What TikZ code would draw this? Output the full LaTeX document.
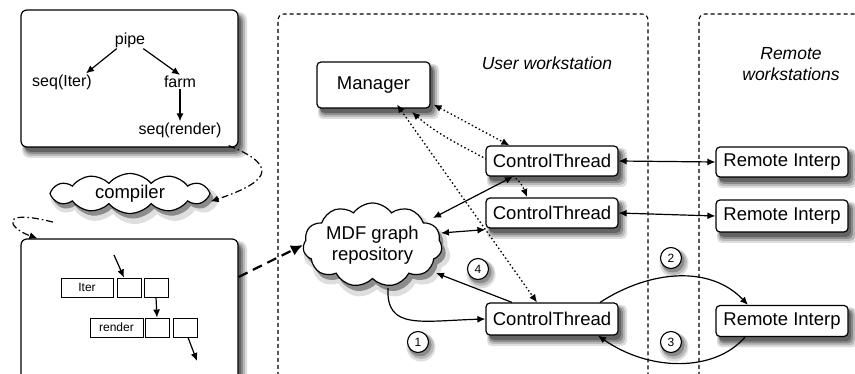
\documentclass[tikz,border=0pt]{standalone}
\usepackage{fontspec}
\setmainfont{Liberation Sans}
\usetikzlibrary{arrows.meta,shapes.symbols}
\definecolor{shA}{RGB}{222,222,222}
\definecolor{shB}{RGB}{185,185,185}
\definecolor{shC}{RGB}{140,140,140}
\definecolor{shD}{RGB}{100,100,100}
% shadow of a rounded box: [radius]{cx}{cy}{w}{h}
\newcommand\shrect[5][5pt]{%
  \path[fill=shA,rounded corners=#1] ({#2-#4/2+1},{#3-#5/2+2}) rectangle ({#2+#4/2+9},{#3+#5/2+11});
  \path[fill=shB,rounded corners=#1] ({#2-#4/2+2},{#3-#5/2+3}) rectangle ({#2+#4/2+7},{#3+#5/2+9});
  \path[fill=shC,rounded corners=#1] ({#2-#4/2+3},{#3-#5/2+4}) rectangle ({#2+#4/2+5},{#3+#5/2+7});
  \path[fill=shD,rounded corners=#1] ({#2-#4/2+3},{#3-#5/2+4}) rectangle ({#2+#4/2+3},{#3+#5/2+5});
}
\newcommand\shcirc[2]{%
  \path[fill=shA] ({#1+3},{#2+5}) circle (14.5pt);
  \path[fill=shB] ({#1+3},{#2+4}) circle (13pt);
  \path[fill=shC] ({#1+2},{#2+3}) circle (11.5pt);
}
\begin{document}
\begin{tikzpicture}[x=1pt,y=-1pt,
  >={Latex[length=8pt,width=7pt]},
  bigbox/.style={draw,line width=1.2pt,rounded corners=6pt,fill=white},
  box/.style={draw,line width=1.2pt,rounded corners=4pt,fill=white,inner sep=0pt,
    font=\fontsize{18.5}{20}\selectfont},
  tree/.style={inner sep=1pt,font=\fontsize{16}{18}\selectfont},
  cell/.style={draw,line width=0.9pt,fill=white,inner sep=0pt,minimum width=24pt,minimum height=19pt,
    font=\fontsize{12}{14}\selectfont},
  region/.style={line width=1.1pt,dash pattern=on 4pt off 3pt,rounded corners=6pt},
  cloudy/.style={cloud,draw,line width=1.2pt,fill=white,cloud ignores aspect,inner sep=0pt,
    font=\fontsize{18.5}{21}\selectfont,align=center},
  cloudsh/.style={cloud,draw=none,cloud ignores aspect,inner sep=0pt},
  num/.style={circle,draw,line width=1.1pt,fill=white,minimum size=21pt,inner sep=0pt,
    font=\fontsize{12}{14}\selectfont},
  title/.style={font=\fontsize{17.5}{21}\selectfont\itshape,align=center},
  dotline/.style={line width=1.3pt,dash pattern=on 1.5pt off 2.5pt},
  dashdot/.style={line width=1.2pt,dash pattern=on 7pt off 3pt on 1.5pt off 3pt},
  solid1/.style={line width=1.2pt}
]
\path[use as bounding box,fill=white] (0,0) rectangle (855,374);

% regions
\draw[region] (278,390) -- (278,14) -- (648,14) -- (648,390);
\draw[region] (699,390) -- (699,14) -- (870,14);
\node[title] (uw) at (547,63) {User workstation};
\node[title] (rw) at (791,64) {Remote\\workstations};

% shadows (drawn first)
\shrect[8pt]{129.5}{78.5}{217}{137}
\shrect[8pt]{129.5}{314.5}{217}{151}
\shrect{373.5}{85}{113}{46}
\shrect{552}{161}{132}{30}
\shrect{552}{213}{132}{30}
\shrect{552}{319}{132}{32}
\shrect{782}{162}{132}{30}
\shrect{782}{216}{132}{32}
\shrect{782}{321}{132}{31}
\shcirc{418}{342}\shcirc{478}{269}\shcirc{671}{258}\shcirc{671}{342}
\node[cloudsh,fill=shA,cloud puffs=12,cloud puff arc=100,minimum width=168pt,minimum height=48pt] (compsh1) at (135,200) {};
\node[cloudsh,fill=shC,cloud puffs=12,cloud puff arc=100,minimum width=161pt,minimum height=41pt] (compsh2) at (133,198) {};
\node[cloudsh,fill=shA,cloud puffs=11,cloud puff arc=110,minimum width=147pt,minimum height=92pt] (mdfsh1) at (377,252) {};
\node[cloudsh,fill=shC,cloud puffs=11,cloud puff arc=110,minimum width=140pt,minimum height=85pt] (mdfsh2) at (376,250) {};

% dotted link hidden behind ct1 (drawn before nodes)
\coordinate (mA) at (412,112);
\coordinate (cB) at (527,197);
\draw[dotline,<->] (mA) .. controls (455,150) and (515,165) .. (cB);

% left boxes
\node[bigbox,minimum width=217pt,minimum height=137pt] (topbox) at (129.5,78.5) {};
\node[tree] (pipe) at (130,40) {pipe};
\node[tree] (seqiter) at (62,82) {seq(Iter)};
\node[tree] (farm) at (180,82) {farm};
\node[tree] (seqrender) at (180,130) {seq(render)};
\draw[solid1,->] ([xshift=3pt]pipe.south west) -- (seqiter.north -| 86,0);
\draw[solid1,->] ([xshift=-3pt]pipe.south east) -- (farm.north);
\draw[solid1,->] (farm.south) -- (seqrender.north);

\node[cloudy,cloud puffs=12,cloud puff arc=100,minimum width=160pt,minimum height=40pt] (compiler) at (130,193.5) {compiler};

\node[bigbox,minimum width=217pt,minimum height=151pt] (botbox) at (129.5,314.5) {};
\node[cell,minimum width=52pt] (iter) at (87,287.5) {Iter};
\node[cell] (b1) at (129,287.5) {};
\node[cell] (b2) at (156,287.5) {};
\node[cell,minimum width=53pt] (render) at (116.5,327.5) {render};
\node[cell] (b3) at (157,327.5) {};
\node[cell] (b4) at (185,327.5) {};
\coordinate (inarr) at (114,255);
\coordinate (outarr) at (197,361);
\draw[solid1,->] (inarr) -- ([xshift=-5pt]b1.north);
\draw[solid1,->] (b2.south) -- (b3.north);
\draw[solid1,->] ([xshift=3pt]b4.south) -- (outarr);

\draw[dashdot,->] ([xshift=-10pt,yshift=2pt]topbox.south east) .. controls (285,168) and (262,184) .. ([yshift=-8pt]compiler.east);
\draw[dashdot,->] ([xshift=-77pt,yshift=-8pt]compiler.south) .. controls (-2,208) and (8,228) .. ([xshift=17pt]botbox.north west);

% user workstation
\node[box,minimum width=113pt,minimum height=46pt] (manager) at (373.5,85) {Manager};
\node[box,minimum width=132pt,minimum height=30pt] (ct1) at (552,161) {ControlThread};
\node[box,minimum width=132pt,minimum height=30pt] (ct2) at (552,213) {ControlThread};
\node[box,minimum width=132pt,minimum height=32pt] (ct3) at (552,319) {ControlThread};
\node[cloudy,cloud puffs=11,cloud puff arc=110,minimum width=139pt,minimum height=84pt] (mdf) at (372.5,245) {MDF graph\\repository};

\node[box,minimum width=132pt,minimum height=30pt] (ri1) at (782,162) {Remote Interp};
\node[box,minimum width=132pt,minimum height=32pt] (ri2) at (782,216) {Remote Interp};
\node[box,minimum width=132pt,minimum height=31pt] (ri3) at (782,321) {Remote Interp};

% dotted manager links
\draw[dotline,<->] ([xshift=3pt,yshift=4pt]manager.south east) -- ([xshift=24pt]ct1.north west);
\draw[dotline,<->] ([xshift=23.5pt,yshift=4pt]manager.south) -- ([xshift=-15pt]ct3.north);

% solid links
\draw[line width=2.2pt,dash pattern=on 10pt off 6pt,-{Latex[length=12pt,width=11pt]}] (botbox.east |- 0,277) -- (mdf.west);
\draw[solid1,<->] ([xshift=-39pt]ct1.south) -- (433,218);
\draw[solid1,<->] ([yshift=-1pt]ct2.south west) -- (441,233);
\draw[solid1,->] ([xshift=-40pt]ct3.north) -- (436,273);
\draw[solid1,->] (388,288) .. controls (386,330) and (420,321) .. (ct3.west);

\draw[solid1,<->] (ct1.east) -- (ri1.west);
\draw[solid1,<->] (ct2.east) -- (ri2.west);
\draw[solid1,->] ([xshift=48pt]ct3.north) .. controls (650,270) and (710,265) .. ([xshift=-34pt]ri3.north);
\draw[solid1,->] ([xshift=-37pt]ri3.south) .. controls (715,372) and (650,372) .. ([xshift=46pt]ct3.south);

\node[num] (n1) at (418,342) {1};
\node[num] (n4) at (478,269) {4};
\node[num] (n2) at (671,258) {2};
\node[num] (n3) at (671,342) {3};
\end{tikzpicture}
\end{document}
